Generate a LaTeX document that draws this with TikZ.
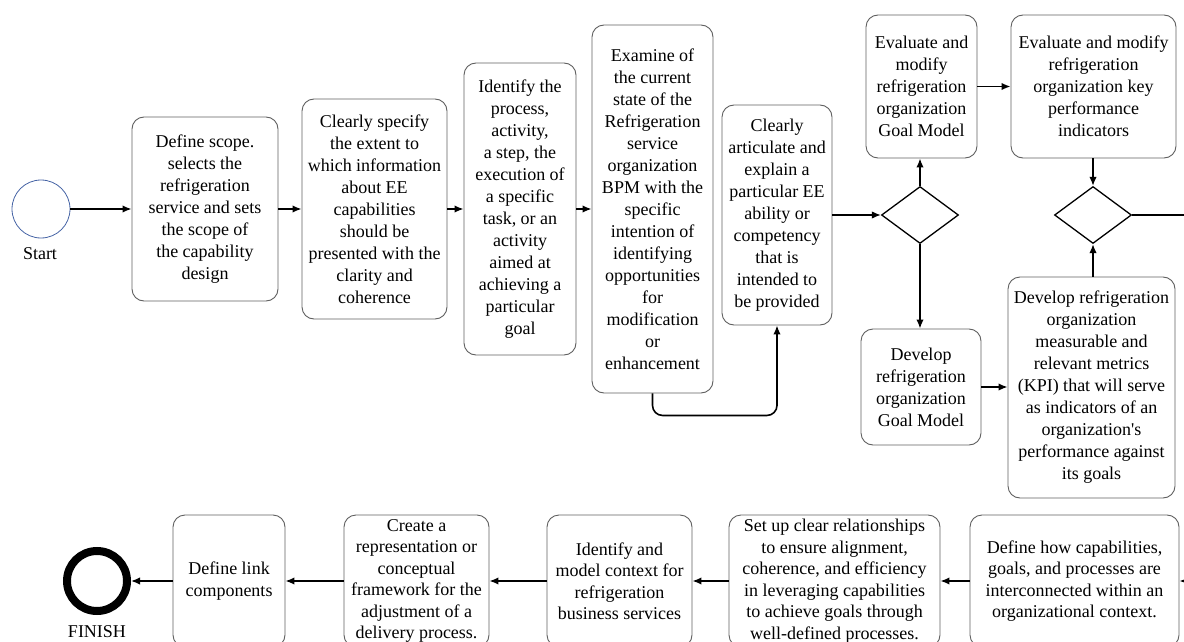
\documentclass[tikz,border=0pt]{standalone}
\usepackage{fontspec}
\setmainfont{Liberation Serif}
\usetikzlibrary{arrows.meta,shapes.geometric}
\definecolor{boxgray}{RGB}{95,95,95}
\definecolor{startblue}{RGB}{70,100,165}
\begin{document}
\begin{tikzpicture}[x=1pt,y=-1pt,
  box/.style={draw=boxgray, line width=0.9pt, rounded corners=12pt, align=center, inner sep=0pt, font=\fontsize{18}{22}\selectfont},
  lowbox/.style={box, font=\fontsize{18}{21.5}\selectfont, minimum height=132pt},
  arr/.style={line width=1.6pt, -{Latex[length=9pt,width=7.5pt]}},
  plain/.style={line width=1.6pt},
  gate/.style={draw, diamond, line width=1.3pt, minimum width=77pt, minimum height=57pt, inner sep=0pt, aspect=1.35},
  lbl/.style={font=\fontsize{18}{22}\selectfont, inner sep=0pt}]
\useasboundingbox (0,0) rectangle (1184,642);
\clip (0,0) rectangle (1184,642);

% start / finish
\node[circle, draw=startblue, line width=0.8pt, minimum size=58pt, inner sep=0pt] (start) at (41,209) {};
\node[lbl] (startlbl) at (40,254) {Start};
\node[circle, draw, line width=8pt, minimum size=60pt, inner sep=0pt] (finish) at (97,581) {};
\node[lbl] (finlbl) at (97,632) {FINISH};

% top row
\node[box, minimum width=146pt, minimum height=184pt] (b1) at (205,209) {Define scope.\\selects the\\refrigeration\\service and sets\\the scope of\\the capability\\design};
\node[box, minimum width=145pt, minimum height=220pt] (b2) at (374.5,209) {Clearly specify\\the extent to\\which information\\about EE\\capabilities\\should be\\presented with the\\clarity and\\coherence};
\node[box, minimum width=112pt, minimum height=292pt] (b3) at (520,209) {Identify the\\process,\\activity,\\a step, the\\execution of\\a specific\\task, or an\\activity\\aimed at\\achieving a\\particular\\goal};
\node[box, minimum width=121pt, minimum height=368pt] (b4) at (652.5,209) {Examine of\\the current\\state of the\\Refrigeration\\service\\organization\\BPM with the\\specific\\intention of\\identifying\\opportunities\\for\\modification\\or\\enhancement};
\node[box, minimum width=110pt, minimum height=220pt] (b5) at (777,215) {Clearly\\articulate and\\explain a\\particular EE\\ability or\\competency\\that is\\intended to\\be provided};

\node[gate] (d1) at (920,215) {};
\node[gate] (d2) at (1093,215) {};

\node[box, minimum width=111pt, minimum height=143pt] (b6) at (921.5,86.5) {Evaluate and\\modify\\refrigeration\\organization\\Goal Model};
\node[box, minimum width=165pt, minimum height=143pt] (b8) at (1093.5,86.5) {Evaluate and modify\\refrigeration\\organization key\\performance\\indicators};
\node[box, minimum width=120pt, minimum height=116pt] (b7) at (921,387) {Develop\\refrigeration\\organization\\Goal Model};
\node[box, minimum width=167pt, minimum height=221pt] (b9) at (1091.5,387.5) {Develop refrigeration\\organization\\measurable and\\relevant metrics\\(KPI) that will serve\\as indicators of an\\organization\textquotesingle s\\performance against\\its goals};

% bottom row
\node[lowbox, minimum width=209pt] (c1) at (1074.5,581) {Define how capabilities,\\goals, and processes are\\interconnected within an\\organizational context.};
\node[lowbox, minimum width=211pt] (c2) at (834.5,581) {Set up clear relationships\\to ensure alignment,\\coherence, and efficiency\\in leveraging capabilities\\to achieve goals through\\well-defined processes.};
\node[lowbox, minimum width=145pt] (c3) at (619.5,581) {Identify and\\model context for\\refrigeration\\business services};
\node[lowbox, minimum width=145pt] (c4) at (416.5,581) {Create a\\representation or\\conceptual\\framework for the\\adjustment of a\\delivery process.};
\node[lowbox, minimum width=112pt] (c5) at (229,581) {Define link\\components};

\coordinate (r1) at (1190,215);
\coordinate (r2) at (1192,581);

% connectors
\draw[arr] (start.east) -- (b1.west);
\draw[arr] (b1.east) -- (b2.west);
\draw[arr] (b2.east) -- (b3.west);
\draw[arr] (b3.east) -- (b4.west);
\draw[arr, rounded corners=10pt] (b4.south) -- ++(0,22) -| (b5.south);
\draw[arr] (b5.east) -- (d1.west);
\draw[arr] (d1.north) -- (d1.north |- b6.south);
\draw[arr] (d1.south) -- (d1.south |- b7.north);
\draw[arr] (b6.east) -- (b8.west);
\draw[arr] (d2.north |- b8.south) -- (d2.north);
\draw[arr] (b7.east) -- (b7.east -| b9.west);
\draw[arr] (d2.south |- b9.north) -- (d2.south);
\draw[plain] (d2.east) -- (r1);

\draw[arr] (r2) -- (c1.east);
\draw[arr] (c1.west) -- (c2.east);
\draw[arr] (c2.west) -- (c3.east);
\draw[arr] (c3.west) -- (c4.east);
\draw[arr] (c4.west) -- (c5.east);
\draw[arr] (c5.west) -- (finish.east);
\end{tikzpicture}
\end{document}
